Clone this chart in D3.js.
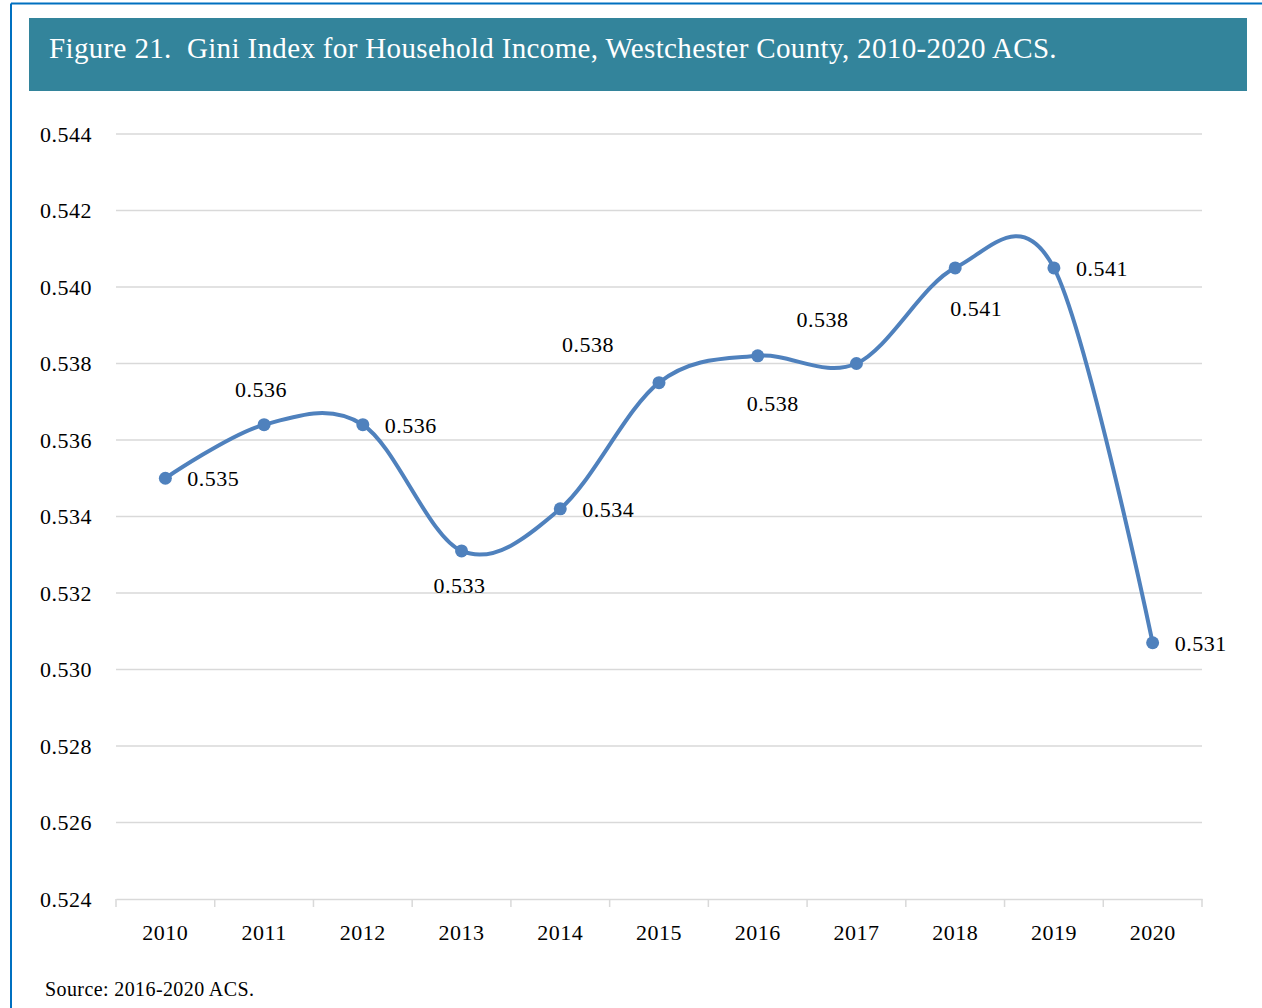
<!DOCTYPE html>
<html>
<head>
<meta charset="utf-8">
<script src="https://cdnjs.cloudflare.com/ajax/libs/d3/7.8.5/d3.min.js"></script>
<style>
  body { margin: 0; background: #fff; }
  svg { display: block; }
</style>
</head>
<body>
<div id="chart"></div>
<script>
// data
var years = ["2010", "2011", "2012", "2013", "2014", "2015", "2016", "2017", "2018", "2019", "2020"];
var gini = [0.5350, 0.5364, 0.5364, 0.5331, 0.5342, 0.5375, 0.5382, 0.5380, 0.5405, 0.5405, 0.5307];
var giniLabels = ["0.535", "0.536", "0.536", "0.533", "0.534", "0.538", "0.538", "0.538", "0.541", "0.541", "0.531"];
var yTicks = [0.524, 0.526, 0.528, 0.530, 0.532, 0.534, 0.536, 0.538, 0.540, 0.542, 0.544];

// where each data label sits relative to its point
var labelPlace = ["right", "above", "right", "below", "right", "aboveLeft", "belowRight", "aboveLeft", "belowRight", "right", "right"];

var W = 1262, H = 1008;
var serif = "'Liberation Serif', 'DejaVu Serif', serif";

var svg = d3.select("#chart")
  .append("svg")
  .attr("width", W)
  .attr("height", H);

// outer blue frame (top and left edges visible)
svg.append("line")
  .attr("x1", 11).attr("x2", W).attr("y1", 3.5).attr("y2", 3.5)
  .attr("stroke", "#0070c0").attr("stroke-width", 2);
svg.append("line")
  .attr("x1", 11).attr("x2", 11).attr("y1", 3.5).attr("y2", H)
  .attr("stroke", "#0070c0").attr("stroke-width", 2);

// title banner
svg.append("rect")
  .attr("x", 29).attr("y", 18)
  .attr("width", 1218).attr("height", 73)
  .attr("fill", "#33849b");
svg.append("text")
  .attr("x", 49).attr("y", 58)
  .attr("fill", "#fff")
  .attr("font-family", serif)
  .attr("font-size", 29)
  .attr("letter-spacing", 0.35)
  .attr("xml:space", "preserve")
  .text("Figure 21.  Gini Index for Household Income, Westchester County, 2010-2020 ACS.");

// scales
var x = d3.scaleBand()
  .domain(years)
  .range([116, 1202]);

var y = d3.scaleLinear()
  .domain([0.524, 0.544])
  .range([899, 134]);

// gridlines
svg.append("g")
  .selectAll("line")
  .data(yTicks.slice(1))
  .enter()
  .append("line")
    .attr("x1", 116).attr("x2", 1202)
    .attr("y1", function(d) { return y(d); })
    .attr("y2", function(d) { return y(d); })
    .attr("stroke", "#d9d9d9")
    .attr("stroke-width", 1.5);

// y axis labels
var yAxis = svg.append("g")
  .attr("transform", "translate(116,0)")
  .call(d3.axisLeft(y).tickValues(yTicks).tickFormat(d3.format(".3f")).tickSize(0).tickPadding(24));
yAxis.select(".domain").remove();
yAxis.selectAll("text")
  .attr("font-family", serif)
  .attr("font-size", 22)
  .attr("letter-spacing", 0.5)
  .attr("fill", "#000");

// x axis, ticks at category boundaries
var xAxis = svg.append("g")
  .attr("transform", "translate(0,899)")
  .call(d3.axisBottom(x).tickSize(0).tickPadding(25));
xAxis.select(".domain")
  .attr("stroke", "#d9d9d9").attr("stroke-width", 1.5);
xAxis.selectAll("text")
  .attr("font-family", serif)
  .attr("font-size", 22)
  .attr("letter-spacing", 0.5)
  .attr("fill", "#000");
svg.append("g")
  .selectAll("line")
  .data(years.concat(["end"]))
  .enter()
  .append("line")
    .attr("x1", function(d, i) { return 116 + i * x.step(); })
    .attr("x2", function(d, i) { return 116 + i * x.step(); })
    .attr("y1", 899).attr("y2", 907)
    .attr("stroke", "#d9d9d9")
    .attr("stroke-width", 1.5);

// smoothed line
var cx = function(d, i) { return x(years[i]) + x.bandwidth() / 2; };
var line = d3.line()
  .curve(d3.curveCardinal.tension(0))
  .x(cx)
  .y(function(d) { return y(d); });

svg.append("path")
  .datum(gini)
  .attr("fill", "none")
  .attr("stroke", "#4f81bd")
  .attr("stroke-width", 4)
  .attr("stroke-linejoin", "round")
  .attr("d", line);

svg.append("g")
  .selectAll("circle")
  .data(gini)
  .enter()
  .append("circle")
    .attr("cx", cx)
    .attr("cy", function(d) { return y(d); })
    .attr("r", 6.5)
    .attr("fill", "#4f81bd");

// data labels
var offsets = {
  right:      { dx: 22,  dy: 8,   anchor: "start" },
  above:      { dx: -3,  dy: -28, anchor: "middle" },
  below:      { dx: -2,  dy: 42,  anchor: "middle" },
  aboveLeft:  { dx: -71, dy: -31, anchor: "middle" },
  belowRight: { dx: 15,  dy: 55,  anchor: "middle" }
};
// fine adjustments for labels that sit off their nominal spot
var nudgeX = [0, 0, 0, 0, 0, 0, 0, 37, 6, 0, 0];
var nudgeY = [0, 0, 0, 0, 0, 0, 0, -6, -7, 0, 0];

svg.append("g")
  .selectAll("text")
  .data(gini)
  .enter()
  .append("text")
    .attr("x", function(d, i) { return cx(d, i) + offsets[labelPlace[i]].dx + nudgeX[i]; })
    .attr("y", function(d, i) { return y(d) + offsets[labelPlace[i]].dy + nudgeY[i]; })
    .attr("text-anchor", function(d, i) { return offsets[labelPlace[i]].anchor; })
    .attr("font-family", serif)
    .attr("font-size", 22)
    .attr("letter-spacing", 0.5)
    .attr("fill", "#000")
    .text(function(d, i) { return giniLabels[i]; });

// source note
svg.append("text")
  .attr("x", 45).attr("y", 996)
  .attr("font-family", serif)
  .attr("font-size", 20)
  .attr("letter-spacing", 0.4)
  .attr("fill", "#000")
  .text("Source: 2016-2020 ACS.");
</script>
</body>
</html>
